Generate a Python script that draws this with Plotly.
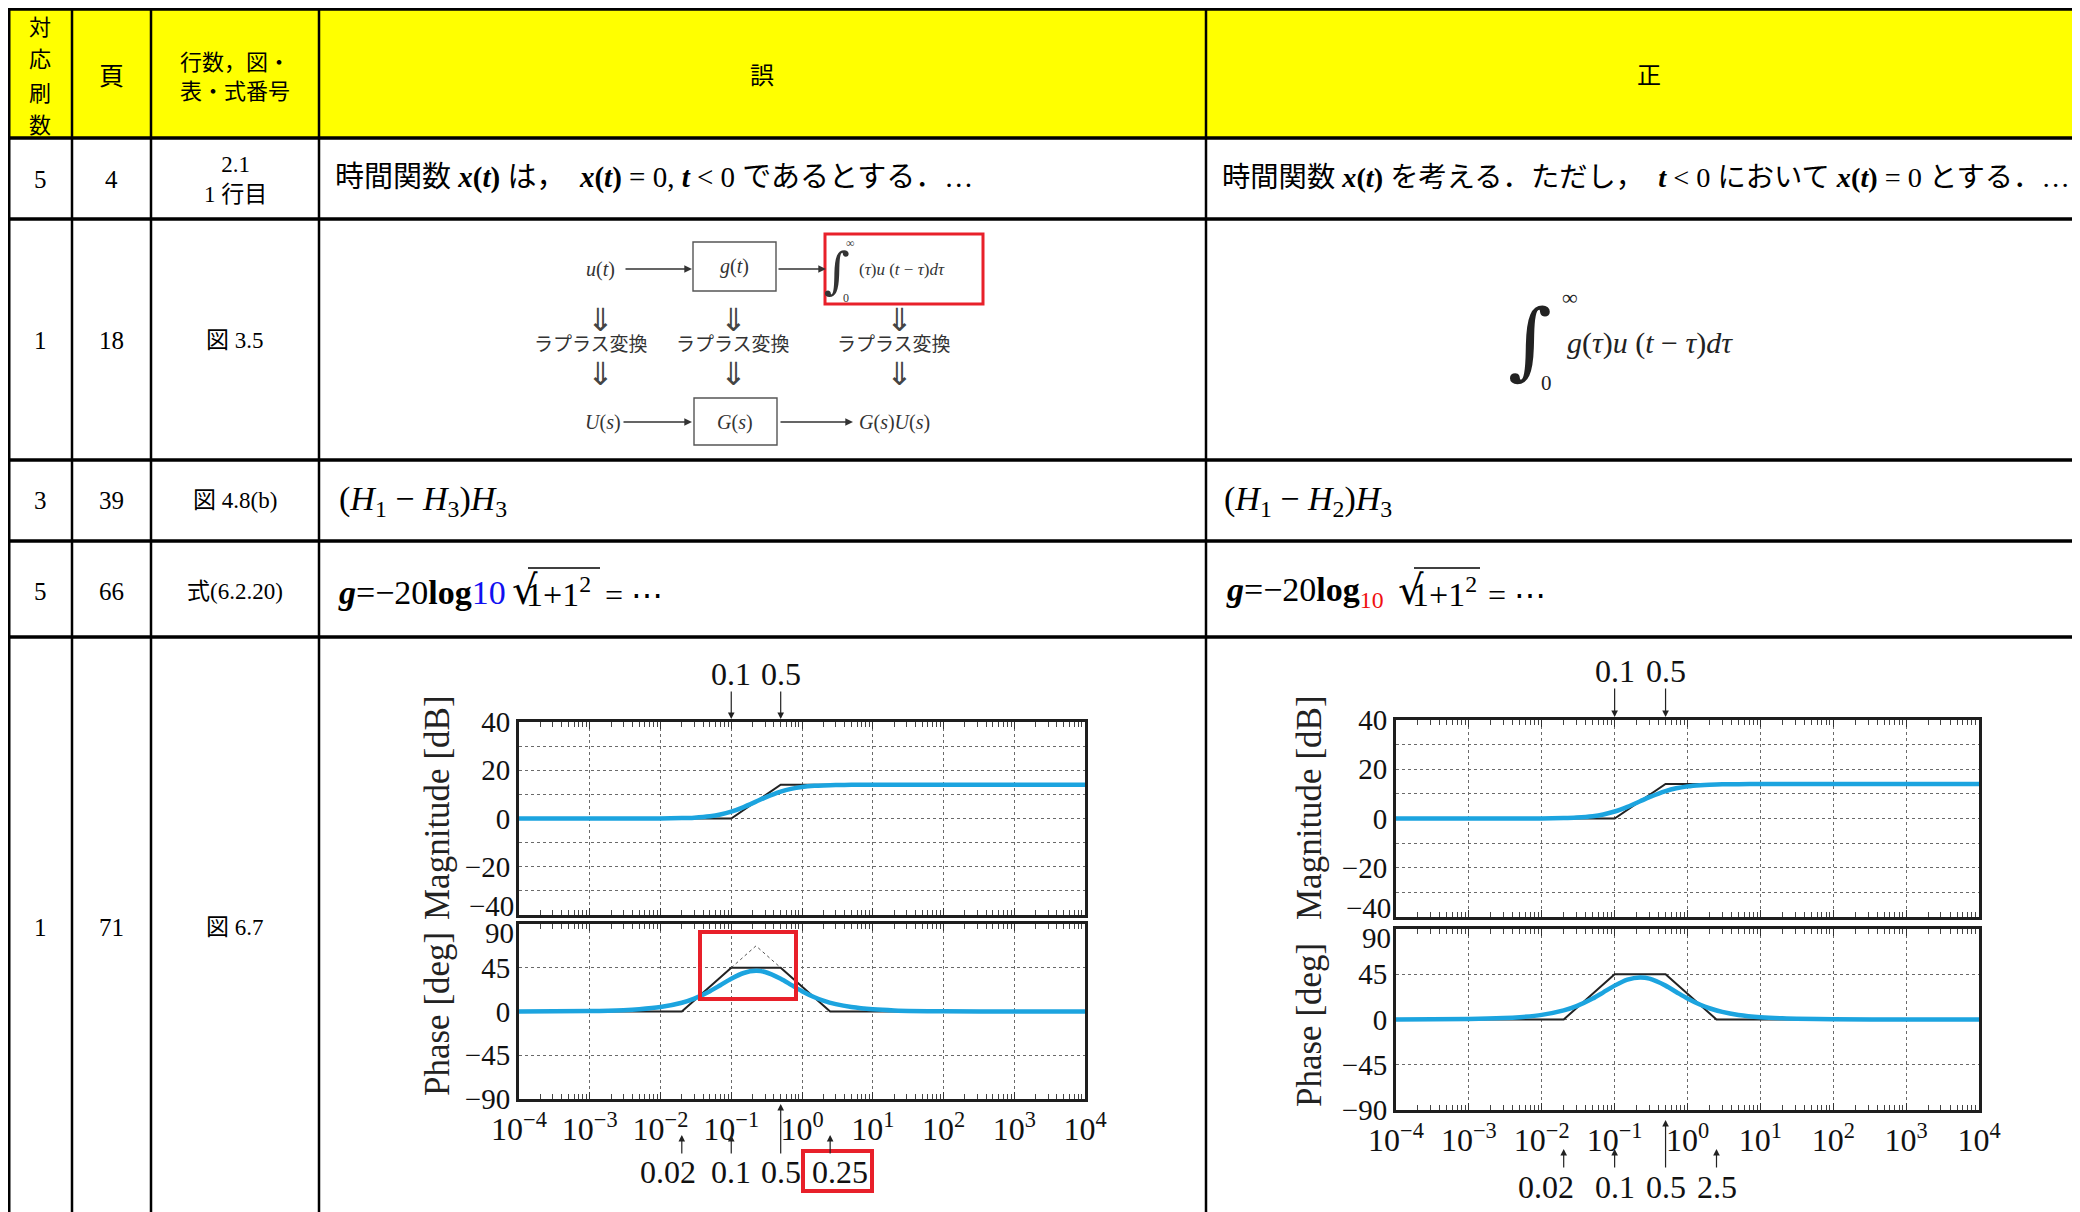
import math
import plotly.graph_objects as go

# page body has an 8px margin: the figure is placed at (8, 8) in the window
OFF = 8
W, H = 2080, 1212
FW, FH = W - OFF, H - OFF
JP = "Liberation Serif, Noto Sans CJK JP, serif"
MATH = "Liberation Serif, DejaVu Serif, serif"

# ---------------- table content ----------------
header_col1_chars = ["対", "応", "刷", "数"]
header_page = "頁"
header_loc = "行数，図・<br>表・式番号"
header_wrong = "誤"
header_right = "正"
print_nums = ["5", "1", "3", "5", "1"]
pages = ["4", "18", "39", "66", "71"]
locations = ["2.1<br>1 行目", "図 3.5", "図 4.8(b)", "式(6.2.20)", "図 6.7"]
row1_wrong = ("時間関数 <b><i>x</i>(<i>t</i>)</b> は，&nbsp; <b><i>x</i>(<i>t</i>)</b> = 0, "
              "<b><i>t</i></b> &lt; 0 であるとする．…")
row1_right = ("時間関数 <b><i>x</i>(<i>t</i>)</b> を考える．ただし，&nbsp; <b><i>t</i></b> &lt; 0 "
              "において <b><i>x</i>(<i>t</i>)</b> = 0 とする．…")
row3_wrong = "(<i>H</i><sub>1</sub> − <i>H</i><sub>3</sub>)<i>H</i><sub>3</sub>"
row3_right = "(<i>H</i><sub>1</sub> − <i>H</i><sub>2</sub>)<i>H</i><sub>3</sub>"

# ---------------- Bode data ----------------
bode_freq = [1e-4, 1e-3, 3e-3, 5e-3, 0.01, 0.02, 0.03, 0.05, 0.07, 0.1, 0.15, 0.2236,
             0.3, 0.5, 0.7, 1, 1.5, 2, 3, 5, 10, 20, 100, 1e3, 1e4]
bode_mag_db = [0.0, 0.0, 0.0, 0.01, 0.04, 0.16, 0.36, 0.93, 1.65, 2.84, 4.75, 6.99,
               8.66, 11.14, 12.28, 13.05, 13.54, 13.73, 13.87, 13.94, 13.97, 13.98, 13.98, 13.98, 13.98]
bode_phase_deg = [0.05, 0.46, 1.37, 2.29, 4.57, 9.02, 13.27, 20.85, 27.02, 33.69, 39.61, 41.81,
                  40.60, 33.69, 27.41, 20.85, 14.62, 11.18, 7.55, 4.56, 2.29, 1.15, 0.23, 0.02, 0.0]
asym_mag_freq = [1e-4, 0.1, 0.5, 1e4]
asym_mag_db = [0, 0, 14, 14]
asym_phase_freq = [1e-4, 0.02, 0.1, 0.5, 2.5, 1e4]
asym_phase_deg = [0, 0, 45, 45, 0, 0]
wrong_peak_freq = [0.1, 0.2236, 0.5]
wrong_peak_deg = [45, 67.5, 45]

decade_vals = [1e-4, 1e-3, 1e-2, 1e-1, 1e0, 1e1, 1e2, 1e3, 1e4]
decade_text = ["10<sup>−4</sup>", "10<sup>−3</sup>", "10<sup>−2</sup>", "10<sup>−1</sup>",
               "10<sup>0</sup>", "10<sup>1</sup>", "10<sup>2</sup>", "10<sup>3</sup>", "10<sup>4</sup>"]
mag_ticks = [-40, -20, 0, 20, 40]
mag_ticktext = ["", "−20", "0", "20", "40"]      # "−40" drawn separately (nudged up, as in the source)
mag_bottom_label = "−40"
mag_minor = [-30, -10, 10, 30]
phase_ticks = [-90, -45, 0, 45, 90]
phase_ticktext = ["−90", "−45", "0", "45", ""]  # "90" drawn separately (nudged down)
phase_top_label = "90"

top_marks = [0.1, 0.5]
top_labels = ["0.1", "0.5"]
bottom_marks = [0.02, 0.1, 0.5, 2.5]
bottom_labels_wrong = ["0.02", "0.1", "0.5", "0.25"]
bottom_labels_right = ["0.02", "0.1", "0.5", "2.5"]

# ---------------- helpers ----------------
shapes = []
annotations = []


def px(x):
    return (x - OFF) / FW


def py(y):
    return 1 - (y - OFF) / FH


def text(x, y, s, size=22, anchor="center", color="black", family=JP, angle=0, vanchor="middle"):
    annotations.append(dict(x=px(x), y=py(y), xref="paper", yref="paper", text=s, showarrow=False,
                            xanchor=anchor, yanchor=vanchor, textangle=angle,
                            font=dict(size=size, color=color, family=family)))


def line(x0, y0, x1, y1, w=2, color="black", dash="solid"):
    shapes.append(dict(type="line", xref="paper", yref="paper", x0=px(x0), y0=py(y0), x1=px(x1), y1=py(y1),
                       line=dict(color=color, width=w, dash=dash), layer="above"))


def rect(x0, y0, x1, y1, w=2, color="black", fill=None, layer="above"):
    d = dict(type="rect", xref="paper", yref="paper", x0=px(x0), y0=py(y0), x1=px(x1), y1=py(y1),
             line=dict(color=color, width=w), layer=layer)
    if fill:
        d["fillcolor"] = fill
    shapes.append(d)


def arrow(hx, hy, tx, ty, color="#333", w=1.4):
    annotations.append(dict(x=px(hx), y=py(hy), xref="paper", yref="paper", text="", showarrow=True,
                            ax=tx - hx, ay=ty - hy, axref="pixel", ayref="pixel",
                            arrowhead=2, arrowsize=1.1, arrowwidth=w, arrowcolor=color, standoff=0))


# ---------------- table frame ----------------
rect(9, 9, W, 138, w=0, color="rgba(0,0,0,0)", fill="#FFFF00", layer="below")
row_lines = [9, 138, 219, 460, 541, 637]
col_lines = [9, 72, 151, 319, 1206]
for yv in row_lines:
    line(8, yv, W, yv, w=3.5)
for xv in col_lines:
    line(xv, 8, xv, H, w=2.5 if xv != 9 else 3)

# header
for ch, yy in zip(header_col1_chars, [28, 60, 93, 125]):
    text(40, yy, ch, size=22)
text(111, 76, header_page, size=25)
text(235, 77, header_loc, size=22)
text(762, 76, header_wrong, size=24)
text(1649, 76, header_right, size=24)

# first three columns
row_centers = [179, 341, 501, 591, 927]
for i, yc in enumerate(row_centers):
    text(40, yc, print_nums[i], size=25, family=MATH)
    text(111, yc, pages[i], size=25, family=MATH)
    text(235, yc, locations[i], size=23)

# row 1
text(333, 178, row1_wrong, size=29, anchor="left")
text(1220, 178, row1_right, size=28.3, anchor="left")

# row 2: block diagram (wrong)
dg = "#333"
text(600, 269, "<i>u</i>(<i>t</i>)", size=20, family=MATH, color=dg)
arrow(692, 269, 624, 269)
rect(693, 242, 776, 291, w=1.4, color="#555")
text(734, 267, "<i>g</i>(<i>t</i>)", size=20, family=MATH, color=dg)
arrow(826, 269, 777, 269)
rect(825, 234, 983, 304, w=3, color="#E8202A")
text(837, 271, "∫", size=50, family="DejaVu Serif", color=dg)
text(850, 243, "∞", size=12, family=MATH, color=dg)
text(846, 298, "0", size=12, family=MATH, color=dg)
text(857, 269, "(<i>τ</i>)<i>u</i> (<i>t</i> − <i>τ</i>)<i>dτ</i>", size=17, family=MATH, color=dg, anchor="left")
for xc in [600, 733, 900]:
    text(xc, 320, "⇓", size=32, family="DejaVu Sans", color="#444")
    text(xc, 374, "⇓", size=32, family="DejaVu Sans", color="#444")
for xc in [591, 733, 894]:
    text(xc, 345, "ラプラス変換", size=19, color=dg)
text(603, 422, "<i>U</i>(<i>s</i>)", size=20, family=MATH, color=dg)
arrow(692, 422, 622, 422)
rect(694, 398, 777, 445, w=1.4, color="#555")
text(735, 422, "<i>G</i>(<i>s</i>)", size=20, family=MATH, color=dg)
arrow(853, 422, 779, 422)
text(894, 422, "<i>G</i>(<i>s</i>)<i>U</i>(<i>s</i>)", size=20, family=MATH, color=dg)

# row 2: right integral
text(1530, 340, "∫", size=84, family="DejaVu Serif", color="#222")
text(1570, 297, "∞", size=22, family=MATH, color="#222")
text(1546, 383, "0", size=21, family=MATH, color="#222")
text(1565, 343, "<i>g</i>(<i>τ</i>)<i>u</i> (<i>t</i> − <i>τ</i>)<i>dτ</i>", size=30, family=MATH,
     color="#222", anchor="left")

# row 3
text(337, 501, row3_wrong, size=34, family=MATH, anchor="left")
text(1222, 501, row3_right, size=34, family=MATH, anchor="left")

# row 4
text(336, 592, "<b><i>g</i></b>=−20<b>log</b><span style='color:#1010F0'>10</span>", size=34,
     family=MATH, anchor="left")
text(510, 590, "√", size=40, family="DejaVu Serif", anchor="left")
text(524, 592, "1+1<sup>2</sup>", size=34, family=MATH, anchor="left")
line(528, 568, 600, 568, w=1.6)
text(603, 595, "= ⋯", size=32, family=MATH, anchor="left")

text(1224, 592, "<b><i>g</i></b>=−20<b>log</b><sub><span style='color:#F01010'>10</span></sub>", size=34,
     family=MATH, anchor="left")
text(1396, 590, "√", size=40, family="DejaVu Serif", anchor="left")
text(1410, 592, "1+1<sup>2</sup>", size=34, family=MATH, anchor="left")
line(1414, 568, 1480, 568, w=1.6)
text(1486, 595, "= ⋯", size=32, family=MATH, anchor="left")

# ---------------- Bode plots ----------------
frames = {
    "L_mag": (519, 722, 1085, 915),
    "L_ph": (519, 924, 1085, 1099),
    "R_mag": (1396, 720, 1979, 917),
    "R_ph": (1396, 929, 1979, 1110),
}


def dom(fr):
    x0, y0, x1, y1 = fr
    return [px(x0), px(x1)], [py(y1), py(y0)]


minor_vals = [m * 10 ** k for k in range(-4, 4) for m in range(2, 10)]
GRID = "#6a6a6a"
FRAME = "#1e1e1e"
tickfont = dict(family=MATH, size=32, color="#111")


def xaxis_cfg(fr, labels, anchor):
    xd, _ = dom(fr)
    return dict(domain=xd, type="log", range=[-4, 4], tickmode="array", tickvals=decade_vals,
                ticktext=decade_text, showticklabels=labels, ticks="inside", ticklen=7, tickwidth=1,
                tickcolor="#333", minor=dict(tickmode="array", tickvals=minor_vals, ticks="inside", ticklen=5,
                                             tickwidth=1, tickcolor="#444", showgrid=False),
                showgrid=True, gridcolor=GRID, griddash="dot", gridwidth=1,
                showline=True, linecolor=FRAME, linewidth=3, mirror="allticks", automargin=False,
                zeroline=False, tickfont=tickfont, fixedrange=True, anchor=anchor)


def yaxis_cfg(fr, rng, tv, tt, minor=None, anchor="x"):
    _, yd = dom(fr)
    d = dict(domain=yd, range=rng, tickmode="array", tickvals=tv, ticktext=tt, ticks="",
             showgrid=True, gridcolor=GRID, griddash="dot", gridwidth=1, automargin=False,
             showline=True, linecolor=FRAME, linewidth=3, mirror=True, zeroline=False,
             tickfont=dict(family=MATH, size=29, color="#111"), fixedrange=True, anchor=anchor)
    if minor:
        d["minor"] = dict(tickmode="array", tickvals=minor, showgrid=True, gridcolor=GRID,
                          griddash="dot", gridwidth=1, ticks="")
    return d


BLUE = "#1CA4DF"
BLACK = "#222222"
panels = [("x", "y", "mag", True), ("x2", "y2", "ph", True), ("x3", "y3", "mag", False), ("x4", "y4", "ph", False)]

fig = go.Figure()
for xa, ya, kind, wrong in panels:
    if kind == "mag":
        ax_x, ax_y, bx, by = asym_mag_freq, asym_mag_db, bode_freq, bode_mag_db
    else:
        ax_x, ax_y, bx, by = asym_phase_freq, asym_phase_deg, bode_freq, bode_phase_deg
    fig.add_trace(go.Scatter(x=ax_x, y=ax_y, mode="lines", line=dict(color=BLACK, width=2),
                             xaxis=xa, yaxis=ya, showlegend=False, hoverinfo="skip"))
    if kind == "ph" and wrong:
        fig.add_trace(go.Scatter(x=wrong_peak_freq, y=wrong_peak_deg, mode="lines",
                                 line=dict(color="#555", width=1, dash="dot"),
                                 xaxis=xa, yaxis=ya, showlegend=False, hoverinfo="skip"))
    fig.add_trace(go.Scatter(x=bx, y=by, mode="lines", line=dict(color=BLUE, width=4.5, shape="spline",
                                                                 smoothing=0.8),
                             xaxis=xa, yaxis=ya, showlegend=False, hoverinfo="skip"))

layout = dict(
    xaxis=xaxis_cfg(frames["L_mag"], False, "y"),
    yaxis=yaxis_cfg(frames["L_mag"], [-40, 40], mag_ticks, mag_ticktext, mag_minor, anchor="x"),
    xaxis2=xaxis_cfg(frames["L_ph"], True, "y2"),
    yaxis2=yaxis_cfg(frames["L_ph"], [-90, 90], phase_ticks, phase_ticktext, anchor="x2"),
    xaxis3=xaxis_cfg(frames["R_mag"], False, "y3"),
    yaxis3=yaxis_cfg(frames["R_mag"], [-40, 40], mag_ticks, mag_ticktext, mag_minor, anchor="x3"),
    xaxis4=xaxis_cfg(frames["R_ph"], True, "y4"),
    yaxis4=yaxis_cfg(frames["R_ph"], [-90, 90], phase_ticks, phase_ticktext, anchor="x4"),
)

# nudged edge tick labels (as in the source figure)
for fm, fp in [(frames["L_mag"], frames["L_ph"]), (frames["R_mag"], frames["R_ph"])]:
    text(fm[0] - 3, fm[3] - 9, mag_bottom_label, size=29, family=MATH, anchor="right", color="#111")
    text(fp[0] - 3, fp[1] + 9, phase_top_label, size=29, family=MATH, anchor="right", color="#111")

# axis titles
text(437, 808, "Magnitude [dB]", size=35, family=MATH, angle=-90, color="#222")
text(437, 1014, "Phase [deg]", size=35, family=MATH, angle=-90, color="#222")
text(1309, 808, "Magnitude [dB]", size=35, family=MATH, angle=-90, color="#222")
text(1309, 1025, "Phase [deg]", size=35, family=MATH, angle=-90, color="#222")


def data_arrow(xref, val, head_y, tail_y, label, label_y, label_shift=0):
    annotations.append(dict(x=math.log10(val), y=py(head_y), xref=xref, yref="paper", text="",
                            showarrow=True, ax=0, ay=tail_y - head_y, axref="pixel", ayref="pixel",
                            arrowhead=2, arrowsize=1.1, arrowwidth=1.2, arrowcolor="#222", standoff=0))
    annotations.append(dict(x=math.log10(val), y=py(label_y), xref=xref, yref="paper", text=label,
                            showarrow=False, xanchor="center", yanchor="middle", xshift=label_shift,
                            font=dict(family=MATH, size=32, color="#111")))


# top arrows
for v, lab in zip(top_marks, top_labels):
    data_arrow("x", v, 719, 690, lab, 674)
    data_arrow("x3", v, 717, 687, lab, 671)

# bottom arrows
shifts_l = [-14, 0, 0, 10]
shifts_r = [-18, 0, 0, 0]
for v, labw, labr, sl, sr in zip(bottom_marks, bottom_labels_wrong, bottom_labels_right, shifts_l, shifts_r):
    head_l = 1104 if v == 0.5 else 1135
    head_r = 1120 if v == 0.5 else 1149
    data_arrow("x2", v, head_l, 1155, labw, 1172, sl)
    data_arrow("x4", v, head_r, 1169, labr, 1187, sr)

# red highlight boxes
rect(700, 932, 796, 999, w=4, color="#E8202A")
rect(803, 1151, 872, 1191, w=4, color="#E8202A")

layout.update(dict(width=FW, height=FH, margin=dict(l=0, r=0, t=0, b=0, pad=0, autoexpand=False),
                   paper_bgcolor="white", plot_bgcolor="white", showlegend=False,
                   shapes=shapes, annotations=annotations))
fig.update_layout(**layout)
fig.write_html("out.html")
